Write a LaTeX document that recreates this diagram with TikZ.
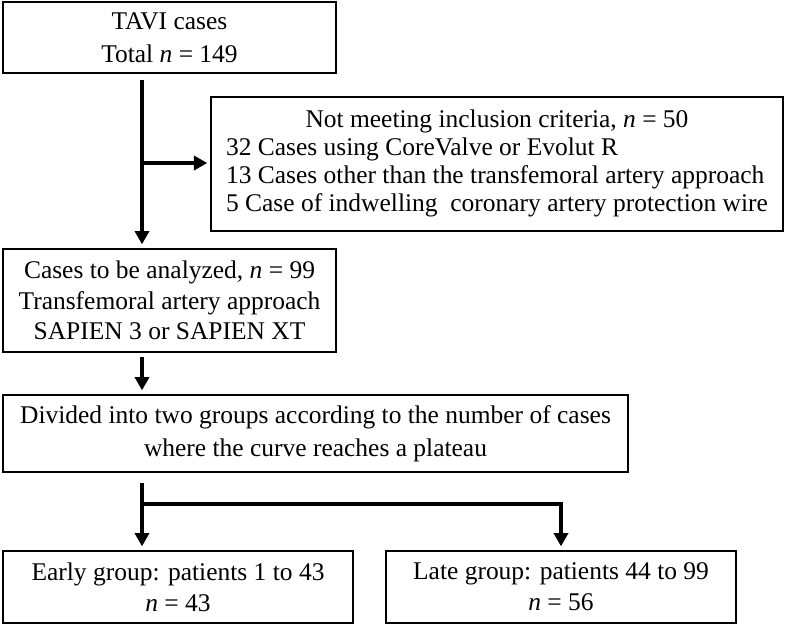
\documentclass[tikz,border=0pt]{standalone}
\usepackage{fontspec}
\setmainfont{Liberation Serif}
\usetikzlibrary{arrows.meta}
\tikzset{
  box/.style={
    draw=black,
    line width=0.9pt,
    fill=white,
    align=center,
    inner sep=0pt,
    font=\fontsize{14.5pt}{17.5pt}\selectfont
  },
  flow/.style={-{Triangle[length=7.6pt, width=8pt]}, line width=2.8pt, shorten <=2.5pt, shorten >=2.2pt},
  link/.style={line width=2.8pt, shorten <=6pt}
}
\newcommand{\nn}{\textit{n}}

\begin{document}
\begin{tikzpicture}[x=0.02cm, y=-0.02cm]
  \useasboundingbox (0,0) rectangle (786,627);
  \node[box, minimum width=6.66cm, minimum height=1.42cm, font=\fontsize{14.5pt}{18.5pt}\selectfont] (c0) at (169.5,37.5)
    {TAVI cases\\Total \nn{} = 149};
  \node[box, minimum width=11.44cm, minimum height=2.68cm, font=\fontsize{14.5pt}{16pt}\selectfont] (c1) at (497,164)
    {\begin{tabular}{@{}l@{}}
     \multicolumn{1}{@{}c@{}}{Not meeting inclusion criteria, \nn{} = 50}\\
     32 Cases using CoreValve or Evolut R\\
     13 Cases other than the transfemoral artery approach\\
     5 Case of indwelling\ \ coronary artery protection wire
     \end{tabular}};
  \node[box, minimum width=6.66cm, minimum height=2.06cm] (c2) at (169.5,300.5)
    {Cases to be analyzed, \nn{} = 99\\Transfemoral artery approach\\SAPIEN 3 or SAPIEN XT};
  \node[box, minimum width=12.5cm, minimum height=1.54cm, font=\fontsize{14.5pt}{19pt}\selectfont] (c3) at (315.5,433.5)
    {Divided into two groups according to the number of cases\\where the curve reaches a plateau};
  \node[box, minimum width=7cm, minimum height=1.44cm] (c4) at (178,587) {Early group: patients 1 to 43\\\nn{} = 43};
  \node[box, minimum width=7cm, minimum height=1.44cm] (c5) at (561,587) {Late group: patients 44 to 99\\\nn{} = 56};
  \coordinate (trunk) at (142,0);
  \coordinate (split) at (142,163);
  \coordinate (fork) at (142,504);
  \draw[flow, shorten <=3.4pt] (c0.south -| trunk) -- (c2.north -| trunk);
  \draw[flow, shorten <=0pt, shorten >=1.7pt] (split) -- (split -| c1.west);
  \draw[flow] (c2.south -| trunk) -- (c3.north -| trunk);
  \draw[link] (c3.south -| trunk) -- (fork);
  \draw[flow, shorten <=0pt, line join=miter] (fork) -- (fork -| c5.north) -- (c5.north);
  \draw[flow, shorten <=0pt] (fork) -- (c4.north -| trunk);
\end{tikzpicture}
\end{document}
